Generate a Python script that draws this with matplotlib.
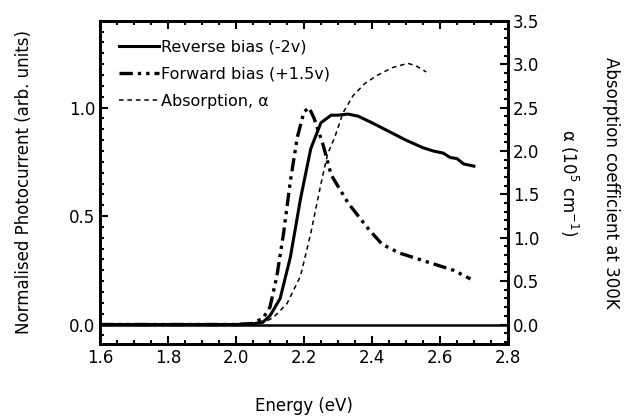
import numpy as np
import matplotlib
import matplotlib.pyplot as plt
from matplotlib.ticker import MultipleLocator

matplotlib.use("Agg")

plt.rcParams["font.family"] = ["DejaVu Sans"]
plt.rcParams["font.size"] = 12

# reverse bias (-2v), photocurrent normalised
e_rev = [1.60, 2.00, 2.05, 2.08, 2.10, 2.13, 2.16, 2.19, 2.22, 2.25, 2.28, 2.30, 2.33,
         2.36, 2.40, 2.45, 2.50, 2.55, 2.58, 2.61, 2.63, 2.65, 2.67, 2.70]
i_rev = [0.0, 0.0, 0.003, 0.012, 0.04, 0.12, 0.31, 0.58, 0.81, 0.93, 0.965, 0.965, 0.97,
         0.96, 0.93, 0.89, 0.85, 0.815, 0.80, 0.79, 0.77, 0.765, 0.74, 0.73]

# forward bias (+1.5v)
e_fwd = [1.60, 2.00, 2.05, 2.08, 2.10, 2.12, 2.14, 2.16, 2.18, 2.20, 2.215, 2.23, 2.256,
         2.28, 2.33, 2.39, 2.43, 2.48, 2.54, 2.58, 2.64, 2.69]
i_fwd = [0.0, 0.0, 0.005, 0.03, 0.08, 0.22, 0.42, 0.66, 0.86, 0.98, 1.00, 0.95, 0.83,
         0.69, 0.56, 0.44, 0.37, 0.33, 0.30, 0.28, 0.25, 0.21]

# absorption coefficient (1e5 cm^-1)
e_abs = [1.60, 2.00, 2.05, 2.08, 2.11, 2.15, 2.19, 2.22, 2.25, 2.27, 2.29, 2.315, 2.345,
         2.38, 2.415, 2.46, 2.506, 2.53, 2.56]
a_abs = [0.0, 0.0, 0.005, 0.02, 0.08, 0.24, 0.56, 1.05, 1.62, 1.97, 2.15, 2.44, 2.64,
         2.78, 2.87, 2.96, 3.01, 2.98, 2.91]

fig = plt.figure(figsize=(6.27, 4.16), dpi=100)
ax = fig.add_axes([0.1595, 0.173, 0.6505, 0.777])
ax2 = ax.twinx()

ax.axhline(0, color="black", lw=1.8)
l1, = ax.plot(e_rev, i_rev, "k-", lw=2.2, label="Reverse bias (-2v)")
l2, = ax.plot(e_fwd, i_fwd, color="black", lw=2.4, ls=(0, (4, 1.5, 1, 1.5, 1, 1.5)),
              label="Forward bias (+1.5v)")
l3, = ax2.plot(e_abs, a_abs, color="black", lw=1.1, ls=(0, (3, 2.5)),
               label="Absorption, \u03b1")

ax.set_xlim(1.6, 2.8)
ax.set_ylim(-0.09, 1.40)
ax2.set_ylim(-0.225, 3.5)

ax.xaxis.set_major_locator(MultipleLocator(0.2))
ax.xaxis.set_minor_locator(MultipleLocator(0.05))
ax.yaxis.set_major_locator(MultipleLocator(0.5))
ax.yaxis.set_minor_locator(MultipleLocator(0.05))
ax2.yaxis.set_major_locator(MultipleLocator(0.5))
ax2.yaxis.set_minor_locator(MultipleLocator(0.1))
ax.xaxis.set_major_formatter(matplotlib.ticker.FormatStrFormatter("%.1f"))
ax.yaxis.set_major_formatter(matplotlib.ticker.FormatStrFormatter("%.1f"))
ax2.yaxis.set_major_formatter(matplotlib.ticker.FormatStrFormatter("%.1f"))

ax.tick_params(which="both", direction="in", top=True, right=False, width=1.5)
ax.tick_params(which="major", length=6)
ax.tick_params(which="minor", length=3)
ax2.tick_params(which="both", direction="in", width=1.5)
ax2.tick_params(which="major", length=6)
ax2.tick_params(which="minor", length=3)
for a in (ax, ax2):
    for s in a.spines.values():
        s.set_linewidth(2)

ax.set_xlabel("Energy (eV)", labelpad=22)
ax.set_ylabel("Normalised Photocurrent (arb. units)", labelpad=26)
ax2.set_ylabel("Absorption coefficient at 300K\n\u03b1 (10$^5$ cm$^{-1}$)",
               rotation=270, labelpad=58, linespacing=2.2)

ax.legend(handles=[l1, l2, l3], loc="upper left", frameon=False, handlelength=2.5,
          handletextpad=0.1, borderaxespad=0.8, labelspacing=0.75, fontsize=11.5)

fig.savefig("out.png", dpi=100)
